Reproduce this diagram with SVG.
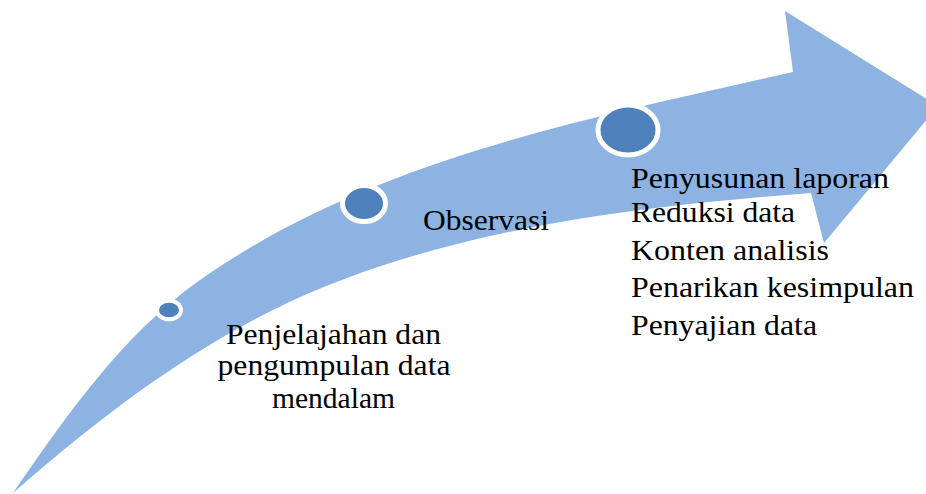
<svg xmlns="http://www.w3.org/2000/svg" width="926" height="494" viewBox="0 0 926 494">
  <style>
    .arrow { fill: #8DB3E2; stroke: none; }
    .dot { fill: #4F81BD; stroke: #FFFFFF; }
  </style>
  <rect x="0" y="0" width="926" height="494" fill="#FFFFFF"/>
  <g id="arrow">
    <path class="arrow" d="M 13 493 C 67 415, 122 335, 200 280 C 372 159, 588 119, 793 72 L 785 11 L 938 106 L 824 243 L 811 193 C 631 207, 434 230, 273 310 C 178 357, 93 423, 13 493 Z"/>
  </g>
  <g id="connectors"></g>
  <g font-family="Liberation Serif, serif" font-size="30" fill="#000000">
    <g id="node-1">
      <ellipse class="dot" cx="169" cy="310" rx="12" ry="9.3" stroke-width="4"/>
      <text x="333.5" y="343.5" text-anchor="middle" textLength="215" lengthAdjust="spacingAndGlyphs">Penjelajahan dan</text>
      <text x="334" y="375" text-anchor="middle" textLength="233" lengthAdjust="spacingAndGlyphs">pengumpulan data</text>
      <text x="333.5" y="408" text-anchor="middle" textLength="123" lengthAdjust="spacingAndGlyphs">mendalam</text>
    </g>
    <g id="node-2">
      <ellipse class="dot" cx="364" cy="203.5" rx="21.5" ry="18" stroke-width="5"/>
      <text x="423" y="230" textLength="126" lengthAdjust="spacingAndGlyphs">Observasi</text>
    </g>
    <g id="node-3">
      <ellipse class="dot" cx="628" cy="130" rx="30" ry="25" stroke-width="5"/>
      <text x="631" y="188" textLength="258" lengthAdjust="spacingAndGlyphs">Penyusunan laporan</text>
      <text x="631" y="221.5" textLength="164" lengthAdjust="spacingAndGlyphs">Reduksi data</text>
      <text x="631" y="259.5" textLength="198" lengthAdjust="spacingAndGlyphs">Konten analisis</text>
      <text x="631" y="297" textLength="283" lengthAdjust="spacingAndGlyphs">Penarikan kesimpulan</text>
      <text x="631" y="335" textLength="186" lengthAdjust="spacingAndGlyphs">Penyajian data</text>
    </g>
  </g>
</svg>
